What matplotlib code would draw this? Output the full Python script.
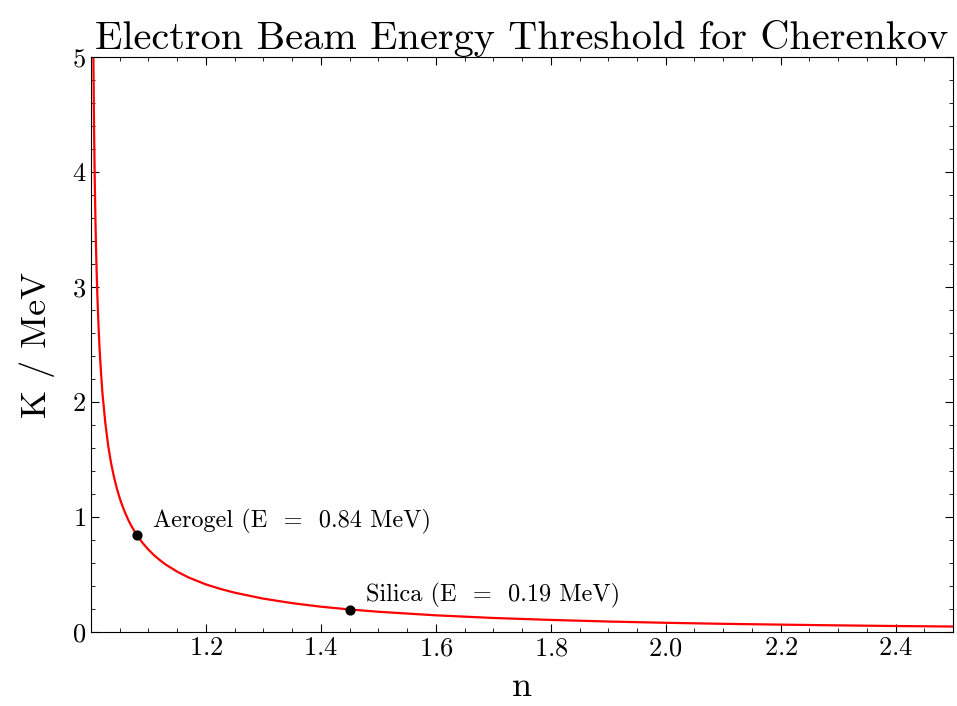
import matplotlib
matplotlib.use("Agg")
import matplotlib.pyplot as plt
from matplotlib.ticker import MultipleLocator

# refractive index vs. threshold kinetic energy
n_vals = [1.0042, 1.0045, 1.005, 1.0055, 1.006, 1.0065, 1.007, 1.008, 1.009, 1.01,
          1.011, 1.012, 1.0135, 1.015, 1.017, 1.02, 1.025, 1.03, 1.035, 1.04,
          1.045, 1.05, 1.055, 1.06, 1.065, 1.07, 1.075, 1.08, 1.09, 1.10,
          1.11, 1.12, 1.13, 1.15, 1.17, 1.20, 1.225, 1.25, 1.30, 1.35,
          1.40, 1.45, 1.50, 1.60, 1.70, 1.80, 1.90, 2.00, 2.10, 2.20,
          2.30, 2.40, 2.50]
k_vals = [5.08, 4.89, 4.62, 4.38, 4.18, 3.99, 3.83, 3.55, 3.32, 3.13,
          2.96, 2.82, 2.63, 2.47, 2.30, 2.08, 1.82, 1.62, 1.47, 1.35,
          1.25, 1.165, 1.093, 1.03, 0.974, 0.925, 0.882, 0.842, 0.773, 0.716,
          0.666, 0.624, 0.586, 0.524, 0.473, 0.413, 0.374, 0.341, 0.289, 0.250,
          0.219, 0.195, 0.175, 0.144, 0.121, 0.104, 0.090, 0.079, 0.070, 0.063,
          0.0565, 0.051, 0.0465]

materials = ["Aerogel", "Silica"]
mat_n = [1.08, 1.45]
mat_k = [0.84, 0.19]

plt.rcParams.update({
    "font.family": "serif",
    "font.serif": ["cmr10"],
    "mathtext.fontset": "cm",
    "axes.unicode_minus": False,
    "axes.formatter.use_mathtext": True,
    "xtick.direction": "in",
    "ytick.direction": "in",
    "xtick.top": True,
    "ytick.right": True,
    "xtick.major.size": 6,
    "ytick.major.size": 6,
    "xtick.minor.size": 3,
    "ytick.minor.size": 3,
    "xtick.major.width": 0.8,
    "ytick.major.width": 0.8,
    "axes.linewidth": 0.8,
})

fig, ax = plt.subplots(figsize=(9.57, 7.06), dpi=100)
fig.subplots_adjust(left=0.095, right=0.996, top=0.919, bottom=0.105)

ax.plot(n_vals, k_vals, color="red", lw=1.6)
ax.scatter(mat_n, mat_k, color="black", s=40, zorder=3)
for name, x, y in zip(materials, mat_n, mat_k):
    ax.text(x + 0.028, y + 0.125, f"{name} (E  =  {y:.2f} MeV)",
            fontsize=17.5, va="center", ha="left")

ax.set_xlim(1.0, 2.5)
ax.set_ylim(0, 5)
ax.xaxis.set_major_locator(MultipleLocator(0.2))
ax.xaxis.set_minor_locator(MultipleLocator(0.05))
ax.yaxis.set_major_locator(MultipleLocator(1))
ax.yaxis.set_minor_locator(MultipleLocator(0.2))
ax.set_xticks([1.2, 1.4, 1.6, 1.8, 2.0, 2.2, 2.4])
ax.tick_params(labelsize=19)

ax.set_xlabel("n", fontsize=26, labelpad=8)
ax.set_ylabel("K / MeV", fontsize=26, labelpad=12)
ax.set_title("Electron Beam Energy Threshold for Cherenkov", fontsize=29)

fig.savefig("out.png", dpi=100)
